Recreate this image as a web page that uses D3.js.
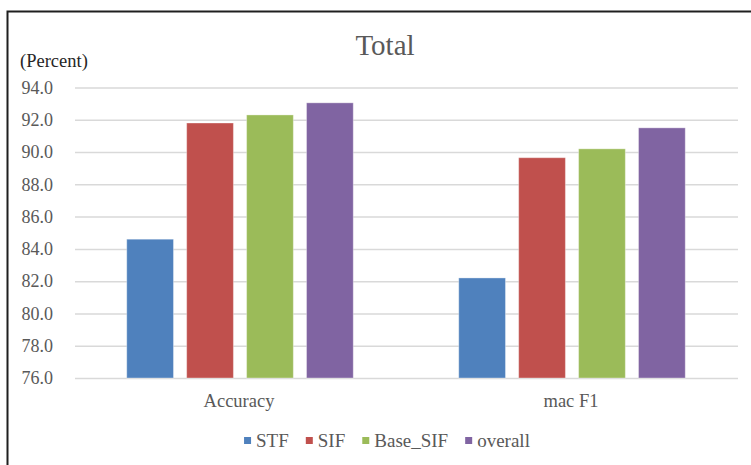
<!DOCTYPE html>
<html>
<head>
<meta charset="utf-8">
<script src="https://cdn.jsdelivr.net/npm/d3@7"></script>
<style>
  body { margin: 0; background: #fff; }
</style>
</head>
<body>
<svg id="chart" width="751" height="465"></svg>
<script>
// data
var categories = ["Accuracy", "mac F1"];
var series = ["STF", "SIF", "Base_SIF", "overall"];
var colors = ["#4F81BD", "#C0504D", "#9BBB59", "#8064A2"];
var accuracyValues = [84.6, 91.8, 92.3, 93.05];
var macF1Values = [82.2, 89.65, 90.2, 91.5];
var yTicks = [76, 78, 80, 82, 84, 86, 88, 90, 92, 94];

var values = [accuracyValues, macF1Values];

var serif = "'Liberation Serif'";

var svg = d3.select("#chart"),
    width = +svg.attr("width"),
    height = +svg.attr("height");

var margin = {left: 74, right: 13, top: 87.5, bottom: 87};

var x0 = d3.scaleBand()
    .domain(categories)
    .range([margin.left, width - margin.right]);

var x1 = d3.scaleBand()
    .domain(series)
    .range([0, x0.bandwidth()])
    .paddingInner(0.22)
    .paddingOuter(0.88);

var y = d3.scaleLinear()
    .domain([76, 94])
    .range([height - margin.bottom, margin.top]);

var color = d3.scaleOrdinal().domain(series).range(colors);

// frame (left and top edges only show in the shot)
svg.append("path")
    .attr("d", "M7.5,465V11.5H751")
    .attr("fill", "none")
    .attr("stroke", "#1f1f1f")
    .attr("stroke-width", 2);

// gridlines + y labels
var yAxis = svg.append("g")
    .attr("transform", "translate(" + (margin.left + 1) + ",0)")
    .call(d3.axisLeft(y)
        .tickValues(yTicks)
        .tickSize(-(width - margin.right - margin.left - 1))
        .tickPadding(22)
        .tickFormat(d3.format(".1f")));

yAxis.attr("font-family", null).attr("font-size", null);
yAxis.select(".domain").remove();
yAxis.selectAll(".tick line")
    .attr("stroke", "#d9d9d9")
    .attr("stroke-width", 1.5);
yAxis.selectAll(".tick text")
    .attr("fill", "#595959")
    .style("font-family", serif)
    .style("font-size", "18px");

// bars
var groups = svg.append("g")
    .selectAll("g")
    .data(categories)
    .enter().append("g")
    .attr("transform", function(d) {
        return "translate(" + x0(d) + ",0)";
    });

groups.selectAll("rect")
    .data(function(d, i) {
        return series.map(function(s, j) {
            return {key: s, value: values[i][j]};
        });
    })
    .enter().append("rect")
    .attr("x", function(d) { return x1(d.key); })
    .attr("y", function(d) { return y(d.value); })
    .attr("width", x1.bandwidth())
    .attr("height", function(d) { return y(76) - y(d.value); })
    .attr("fill", function(d) { return color(d.key); })
    .attr("stroke", "#ffffff")
    .attr("stroke-opacity", 0.35)
    .attr("stroke-width", 1);

// category labels
svg.append("g")
    .selectAll("text")
    .data(categories)
    .enter().append("text")
    .attr("x", function(d) { return x0(d) + x0.bandwidth() / 2 - 1; })
    .attr("y", 407)
    .attr("text-anchor", "middle")
    .attr("fill", "#595959")
    .style("font-family", serif)
    .style("font-size", "18.5px")
    .text(function(d) { return d; });

// title
svg.append("text")
    .attr("x", 385)
    .attr("y", 55)
    .attr("text-anchor", "middle")
    .attr("fill", "#595959")
    .style("font-family", serif)
    .style("font-size", "29px")
    .text("Total");

// unit label
svg.append("text")
    .attr("x", 20)
    .attr("y", 67)
    .attr("fill", "#262626")
    .style("font-family", serif)
    .style("font-size", "18.5px")
    .text("(Percent)");

// legend
var legend = svg.append("g");
var lx = 0;
series.forEach(function(s) {
    var item = legend.append("g").attr("transform", "translate(" + lx + ",0)");
    item.append("rect")
        .attr("x", 0)
        .attr("y", -10)
        .attr("width", 7)
        .attr("height", 7)
        .attr("fill", color(s));
    var t = item.append("text")
        .attr("x", 12)
        .attr("y", 0)
        .attr("fill", "#595959")
        .style("font-family", serif)
        .style("font-size", "19px")
        .text(s);
    lx += 12 + t.node().getComputedTextLength() + 17;
});
var legendWidth = lx - 17;
legend.attr("transform", "translate(" + (387 - legendWidth / 2) + ",447)");
</script>
</body>
</html>
